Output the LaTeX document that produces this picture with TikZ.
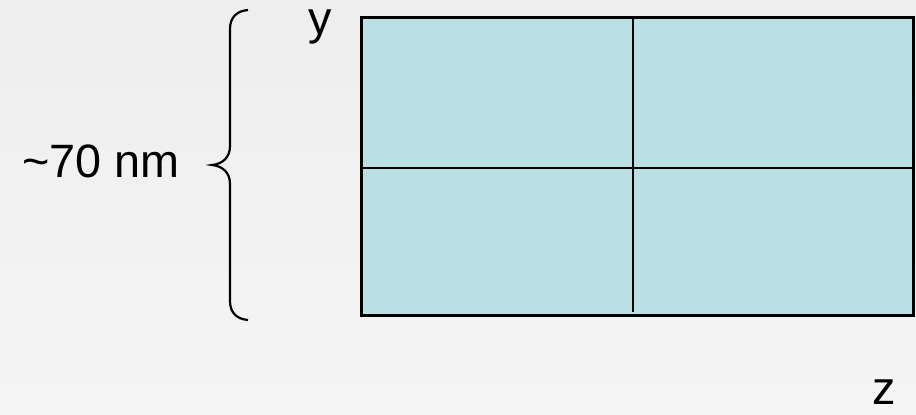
\documentclass[tikz,border=0pt]{standalone}
\usepackage{fontspec}
\setmainfont{Liberation Sans}
\usepackage{xcolor}
\usetikzlibrary{calc}
\definecolor{bgtop}{RGB}{238,238,238}
\definecolor{bgbot}{RGB}{245,245,245}
\definecolor{cellfill}{RGB}{187,224,227}
\begin{document}
\begin{tikzpicture}[x=0.5pt,y=0.5pt,
  lbl/.style={inner sep=0pt,font=\fontsize{23.4}{27}\selectfont},
  grid/.style={line width=1pt}]
  \shade[top color=bgtop,bottom color=bgbot] (0,0) rectangle (916,414);
  \useasboundingbox (0,0) rectangle (916,414);
  % cross-section cells
  \fill[cellfill] (361,99) rectangle (913,397);
  \draw[grid] (361,246) -- (913,246);
  \draw[grid] (633,397) -- (633,102);
  \draw[line width=1.5pt] (361,99) rectangle (913,397);
  % brace
  \draw[line width=1.1pt] (248,404) .. controls (236,403) and (230,396) .. (230,385)
    -- (230,268) .. controls (230,256) and (222,250) .. (212,249)
    .. controls (222,248) and (230,242) .. (230,230)
    -- (230,113) .. controls (230,102) and (236,95) .. (248,94);
  \node[lbl,anchor=base west] (size) at (22,237) {\textasciitilde 70 nm};
  \node[lbl,anchor=base] (ylab) at (320,380) {y};
  \node[lbl,anchor=base] (zlab) at (884,10) {z};
\end{tikzpicture}
\end{document}
